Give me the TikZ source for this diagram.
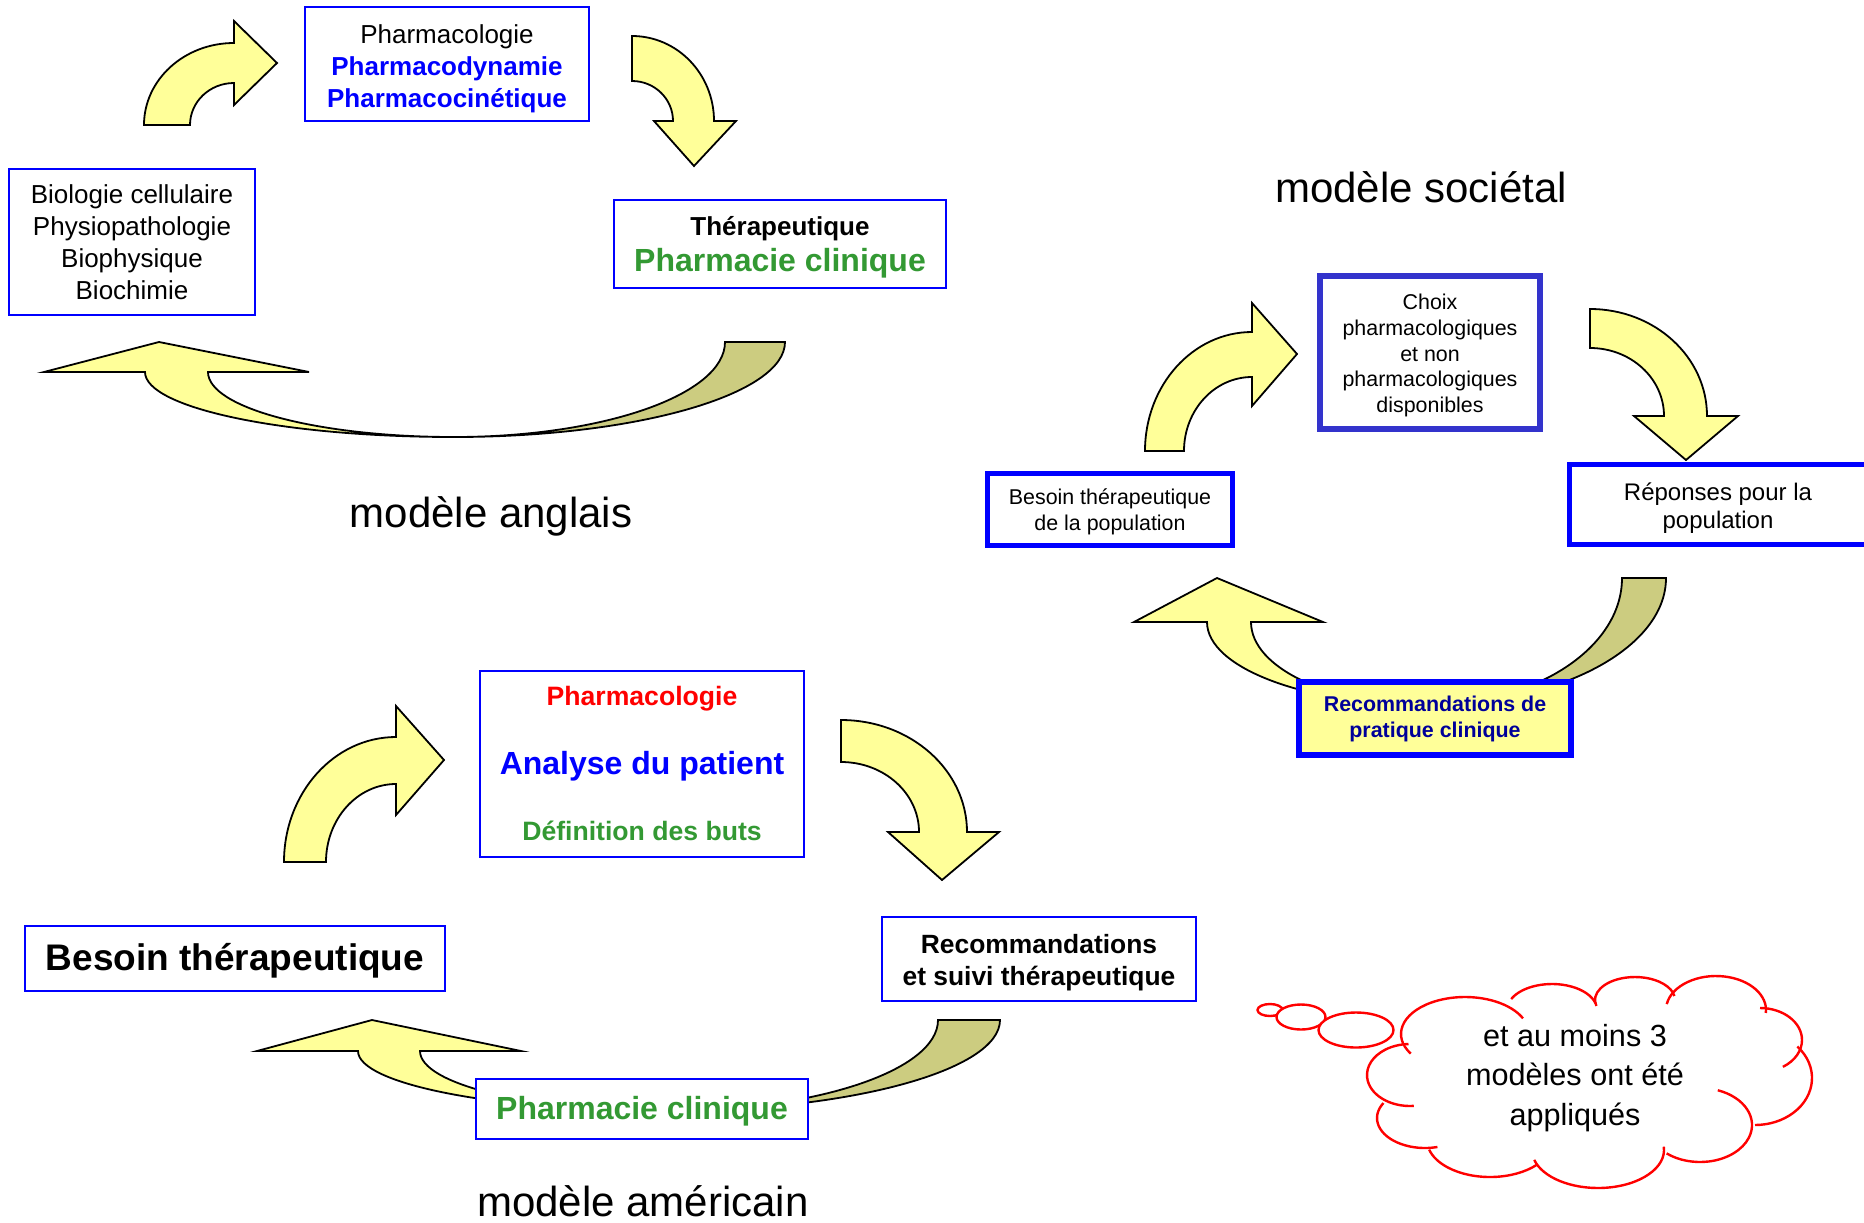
\documentclass[tikz,border=0pt]{standalone}
\usepackage{fontspec}
\setmainfont{Liberation Sans}
\usepackage{tikz}

\definecolor{jaune}{RGB}{255,255,153}
\definecolor{kaki}{RGB}{204,204,128}
\definecolor{bleu}{RGB}{0,0,255}
\definecolor{bleufonce}{RGB}{51,51,204}
\definecolor{marine}{RGB}{0,0,153}
\definecolor{vert}{RGB}{51,153,51}

% premiere ligne un peu plus haute, pour descendre le texte dans sa boite
\newcommand{\haut}[2]{\raisebox{0pt}[\dimexpr\height+#1\relax]{#2}}

\begin{document}
\begin{tikzpicture}[x=0.5pt,y=0.5pt,yscale=-1,
  fleche/.style={draw=black,line width=0.9pt,fill=jaune},
  dos/.style={draw=black,line width=0.9pt,fill=kaki},
  boite/.style={draw=bleu,line width=1pt,fill=white,align=center,inner sep=0pt},
  grosse/.style={draw=bleu,line width=2.5pt,fill=white,align=center,inner sep=0pt},
  titre/.style={font=\fontsize{21}{25}\selectfont},
  nuage/.style={draw=red,line width=1.2pt}]

\useasboundingbox (0,0) rectangle (1864,1222);

%modele anglais
\draw[fleche] (144,125) arc[start angle=180,end angle=270,x radius=90,y radius=82] -- (234,21) -- (277,63) -- (234,105) -- (234,83) arc[start angle=270,end angle=180,x radius=44,y radius=42] -- cycle;
\draw[fleche] (632,36) arc[start angle=270,end angle=360,x radius=82,y radius=85] -- (736,121) -- (694,166) -- (654,121) -- (673,121) arc[start angle=0,end angle=-90,x radius=41,y radius=40] -- cycle;
\draw[dos] (725,342) -- (785,342) arc[start angle=0,end angle=90,x radius=331,y radius=95] arc[start angle=90,end angle=0,x radius=271,y radius=95] -- cycle;
\draw[fleche] (454,437) arc[start angle=90,end angle=180,x radius=309,y radius=65] -- (44,372) -- (159,342) -- (309,372) -- (208,372) arc[start angle=180,end angle=90,x radius=246,y radius=65] -- cycle;

\node[boite,minimum width=142pt,minimum height=57pt,font=\fontsize{13}{16}\selectfont] (pharmaco) at (447,64)
  {\haut{4.8pt}{Pharmacologie}\\ \textcolor{bleu}{\textbf{Pharmacodynamie}}\\ \textcolor{bleu}{\textbf{Pharmacocinétique}}};
\node[boite,minimum width=123pt,minimum height=73pt,font=\fontsize{13}{16}\selectfont] (biologie) at (132,242)
  {Biologie cellulaire\\Physiopathologie\\Biophysique\\Biochimie};
\node[boite,minimum width=166pt,minimum height=44pt,font=\fontsize{13}{18}\selectfont] (therapeutique) at (780,244)
  {\haut{3.6pt}{\textbf{Thérapeutique}}\\ \fontsize{16}{18}\selectfont\textcolor{vert}{\textbf{Pharmacie clinique}}};
\node[titre] (anglais) at (491,516) {modèle anglais};

%modele societal
\draw[fleche] (1145,451) arc[start angle=180,end angle=270,x radius=107,y radius=119] -- (1252,303) -- (1297,354) -- (1252,406) -- (1252,377) arc[start angle=270,end angle=180,x radius=68,y radius=74] -- cycle;
\draw[fleche] (1590,309) arc[start angle=270,end angle=360,x radius=117,y radius=107] -- (1738,416) -- (1686,460) -- (1634,416) -- (1664,416) arc[start angle=0,end angle=-90,x radius=74,y radius=68] -- cycle;
\draw[dos] (1622,578) -- (1666,578) arc[start angle=0,end angle=90,x radius=239,y radius=127] arc[start angle=90,end angle=0,x radius=195,y radius=127] -- cycle;
\draw[fleche] (1427,705) arc[start angle=90,end angle=180,x radius=220,y radius=83] -- (1134,622) -- (1217,578) -- (1323,622) -- (1251,622) arc[start angle=180,end angle=90,x radius=176,y radius=83] -- cycle;

\node[titre] (societal) at (1421,187) {modèle sociétal};
\node[grosse,draw=bleufonce,line width=3pt,minimum width=110pt,minimum height=76.5pt,font=\fontsize{10.7}{12.8}\selectfont] (choix) at (1430,352.5)
  {\haut{3pt}{Choix}\\pharmacologiques\\et non\\pharmacologiques\\disponibles};
\node[grosse,minimum width=122.5pt,minimum height=36pt,font=\fontsize{10.7}{13}\selectfont] (besoinpop) at (1110,509.5)
  {\haut{2.4pt}{Besoin thérapeutique}\\de la population};
% la boite sort de l'image a droite
\draw[bleu,line width=2.5pt] (1569.5,464.5) rectangle (1885,544.5);
\node[align=center,font=\fontsize{12}{14.3}\selectfont] (reponses) at (1718,508)
  {Réponses pour la\\population};
\node[grosse,line width=3pt,fill=jaune,text=marine,minimum width=136pt,minimum height=36.5pt,font=\fontsize{10.7}{13}\selectfont\bfseries] (recopc) at (1435,718.5)
  {Recommandations de\\pratique clinique};

%modele americain
\draw[fleche] (284,862) arc[start angle=180,end angle=270,x radius=112,y radius=125] -- (396,706) -- (444,760) -- (396,815) -- (396,784) arc[start angle=270,end angle=180,x radius=70,y radius=78] -- cycle;
\draw[fleche] (841,720) arc[start angle=270,end angle=360,x radius=126,y radius=112] -- (999,832) -- (942,880) -- (888,832) -- (919,832) arc[start angle=0,end angle=-90,x radius=78,y radius=70] -- cycle;
\draw[dos] (938,1020) -- (1000,1020) arc[start angle=0,end angle=90,x radius=334,y radius=91] arc[start angle=90,end angle=0,x radius=272,y radius=91] -- cycle;
\draw[fleche] (666,1111) arc[start angle=90,end angle=180,x radius=308,y radius=60] -- (257,1051) -- (372,1020) -- (521,1051) -- (420,1051) arc[start angle=180,end angle=90,x radius=246,y radius=60] -- cycle;

\node[boite,minimum width=162pt,minimum height=93pt,font=\fontsize{13.3}{33}\selectfont\bfseries] (analyse) at (642,763.5)
  {\textcolor{red}{Pharmacologie}\\[1.2pt] \fontsize{16}{33}\selectfont\textcolor{bleu}{Analyse du patient}\\ \textcolor{vert}{Définition des buts}};
\node[boite,minimum width=210pt,minimum height=32.5pt,font=\fontsize{18.5}{22}\selectfont\bfseries] (besoin) at (235,958.5)
  {\haut{2.4pt}{Besoin thérapeutique}};
\node[boite,minimum width=157pt,minimum height=42pt,font=\fontsize{13.2}{16}\selectfont\bfseries] (recosuivi) at (1039,959)
  {\haut{3.6pt}{Recommandations}\\et suivi thérapeutique};
\node[boite,minimum width=166pt,minimum height=30pt,font=\fontsize{16}{18}\selectfont\bfseries,text=vert] (pharmaclin) at (642,1109)
  {\haut{2.4pt}{Pharmacie clinique}};
\node[titre] (americain) at (643,1201) {modèle américain};

%bulle
\foreach \cx/\cy/\rx/\ry/\a/\b in {1465/1034/64/37/148/335, 1552/1010/45/26/205/345, 1635/1000/40/23/165/350,
  1716/1010/50/34/190/365, 1760/1040/42/32/270/417, 1755/1078/57/47/-42/90, 1700/1125/52/37/-70/130,
  1598/1150/66/38/-5/165, 1490/1140/63/37/42/165, 1425/1118/48/30/75/210, 1410/1075/43/31/85/268}
  \draw[nuage] (\cx,\cy) ++(\a:{\rx} and {\ry}) arc[start angle=\a,end angle=\b,x radius=\rx,y radius=\ry];
\draw[nuage,fill=white] (1270,1010) ellipse[x radius=12.5,y radius=6];
\draw[nuage,fill=white] (1301,1017) ellipse[x radius=24.5,y radius=12.5];
\draw[nuage,fill=white] (1356,1030) ellipse[x radius=37.5,y radius=17.5];
\node[align=center,font=\fontsize{15.3}{19.6}\selectfont] (bulle) at (1575,1078) {et au moins 3\\modèles ont été\\appliqués};

\end{tikzpicture}
\end{document}
